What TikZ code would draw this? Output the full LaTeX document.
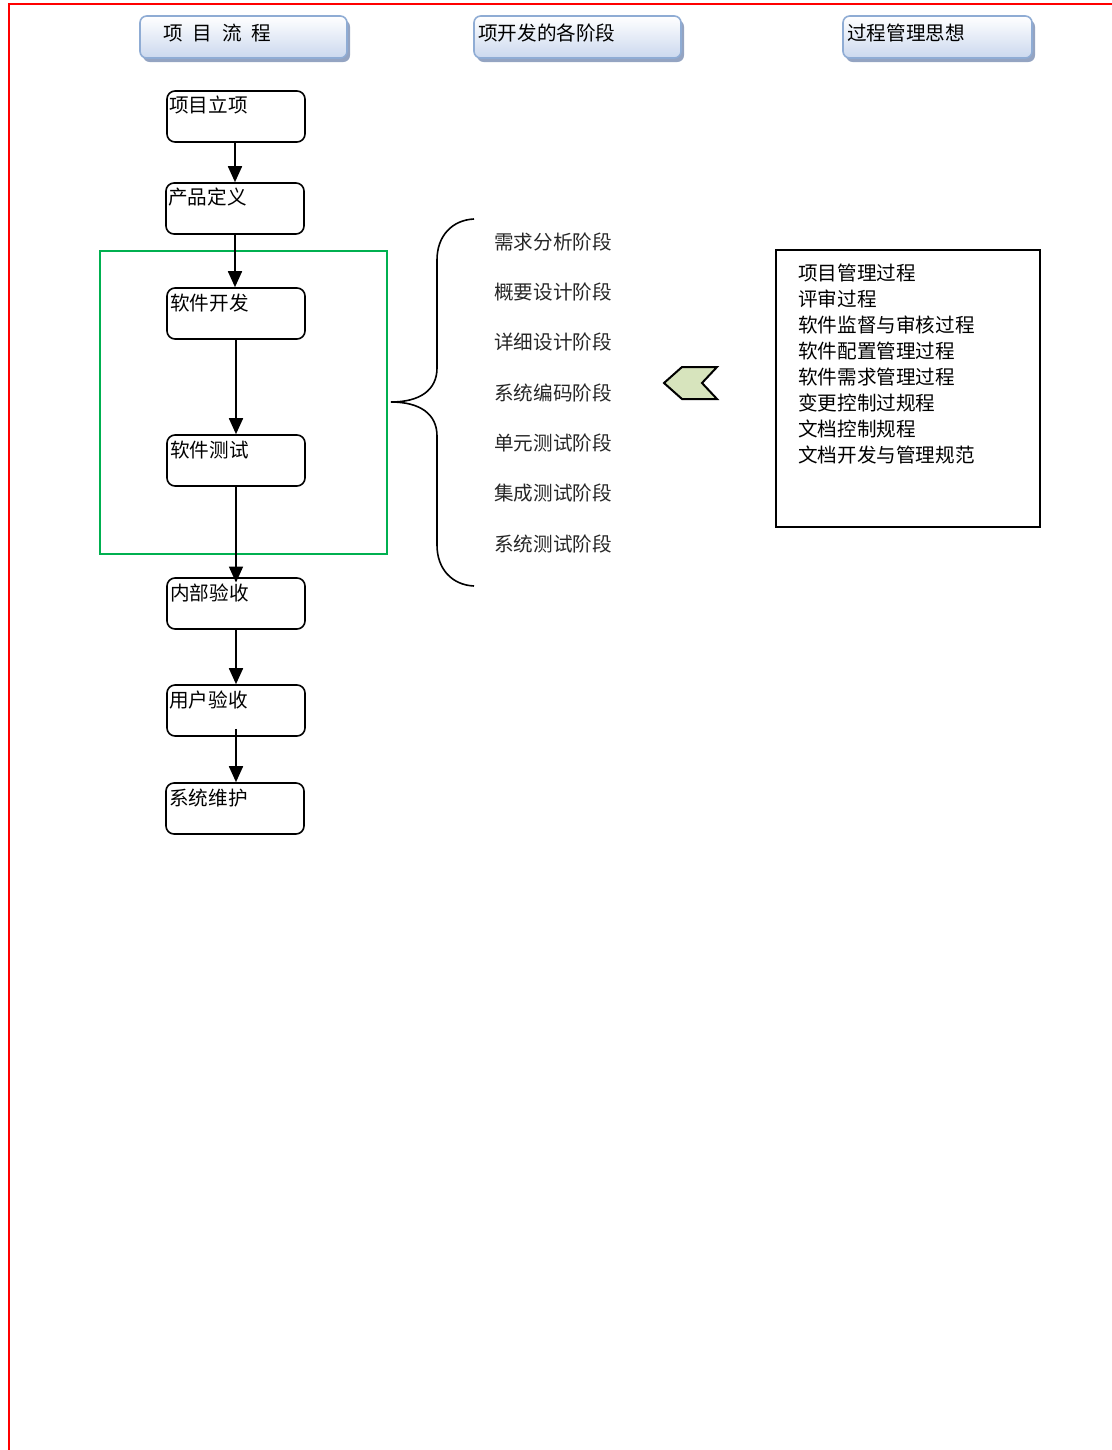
\documentclass[tikz,border=0pt]{standalone}
\usepackage{fontspec}
\newfontfamily\cjk{Noto Sans CJK SC}
\usetikzlibrary{arrows.meta}
\definecolor{hdrborder}{RGB}{143,172,212}
\definecolor{hdrbottom}{RGB}{203,216,238}
\definecolor{hdrshadow}{RGB}{148,164,194}
\definecolor{grpgreen}{RGB}{0,176,80}
\definecolor{chevfill}{RGB}{215,228,189}
\definecolor{stagetxt}{RGB}{38,38,38}
\begin{document}
\begin{tikzpicture}[x=0.75pt,y=-0.75pt,
  txt/.style={font=\cjk\fontsize{14.7pt}{19.5pt}\selectfont, inner sep=0pt},
  hdr/.style={draw=hdrborder, line width=1.2pt, rounded corners=5pt, top color=white, bottom color=hdrbottom, minimum height=42*0.75pt, inner sep=0pt},
  hdrshadowbox/.style={fill=hdrshadow, rounded corners=5pt, minimum height=42*0.75pt, inner sep=0pt},
  flowbox/.style={draw, line width=1.2pt, rounded corners=6pt, minimum width=138*0.75pt, minimum height=51*0.75pt, inner sep=0pt},
  flow/.style={line width=1.3pt, -{Triangle[length=12pt,width=10.5pt]}},
]
\useasboundingbox (0,0) rectangle (1112,1450);
% red frame
\draw[red, line width=1.5pt] (9,1450) -- (9,4) -- (1112,4);

% headers
\node[hdrshadowbox, minimum width=207*0.75pt] (h1s) at (246.5,41) {};
\node[hdr, minimum width=207*0.75pt] (h1) at (243.5,37) {};
\node[txt, anchor=west] (h1t) at (163,33) {项\hspace{0.5em}目\hspace{0.5em}流\hspace{0.5em}程};
\node[hdrshadowbox, minimum width=207*0.75pt] (h2s) at (580.5,41) {};
\node[hdr, minimum width=207*0.75pt] (h2) at (577.5,37) {};
\node[txt, anchor=west] (h2t) at (478,33) {项开发的各阶段};
\node[hdrshadowbox, minimum width=189*0.75pt] (h3s) at (940.5,41) {};
\node[hdr, minimum width=189*0.75pt] (h3) at (937.5,37) {};
\node[txt, anchor=west] (h3t) at (847,33) {过程管理思想};

% group rectangle
\node[draw=grpgreen, line width=1.3pt, minimum width=287*0.75pt, minimum height=303*0.75pt, inner sep=0pt] (grp) at (243.5,402.5) {};

% flow boxes
\node[flowbox] (b1) at (236,116.5) {};
\node[flowbox] (b2) at (235,208.5) {};
\node[flowbox] (b3) at (236,313.5) {};
\node[flowbox] (b4) at (236,460.5) {};
\node[flowbox] (b5) at (236,603.5) {};
\node[flowbox] (b6) at (236,710.5) {};
\node[flowbox] (b7) at (235,808.5) {};
\node[txt, anchor=west] (t1) at (169,105) {项目立项};
\node[txt, anchor=west] (t2) at (168,197) {产品定义};
\node[txt, anchor=west] (t3) at (170,303) {软件开发};
\node[txt, anchor=west] (t4) at (170,450) {软件测试};
\node[txt, anchor=west] (t5) at (170,593) {内部验收};
\node[txt, anchor=west] (t6) at (169,700) {用户验收};
\node[txt, anchor=west] (t7) at (169,798) {系统维护};

% arrows
\draw[flow] (b2.north |- b1.south) -- (b2.north);
\draw[flow] (b2.south) -- (b2.south |- b3.north);
\draw[flow] (b3.south) -- (b4.north);
\draw[flow, shorten >=-4pt] (b4.south) -- (b5.north);
\draw[flow] (b5.south) -- (b6.north);
\draw[flow, shorten <=-6pt] (b6.south) -- (b6.south |- b7.north);

% brace
\draw[line width=1.2pt] (474,219) .. controls (452,220) and (437,236) .. (437,260) -- (437,368)
  .. controls (437,390) and (420,402) .. (391,402)
  .. controls (420,402) and (437,414) .. (437,436) -- (437,545)
  .. controls (437,569) and (452,585) .. (474,586);

% stages
\foreach \y/\s [count=\i] in {242/需求分析阶段, 292/概要设计阶段, 342/详细设计阶段, 393/系统编码阶段, 443/单元测试阶段, 493/集成测试阶段, 544/系统测试阶段}
  \node[txt, text=stagetxt, anchor=west] (s\i) at (494,\y) {\s};

% chevron
\draw[fill=chevfill, line width=1.5pt, line join=miter] (664,383) -- (682,367) -- (717,367) -- (702,383) -- (717,399) -- (682,399) -- cycle;

% thoughts box
\node[draw, line width=1.3pt, minimum width=264*0.75pt, minimum height=277*0.75pt, inner sep=0pt] (thoughts) at (908,388.5) {};
\node[txt, anchor=north west, align=left] (thoughtstxt) at (798,264) {项目管理过程\\评审过程\\软件监督与审核过程\\软件配置管理过程\\软件需求管理过程\\变更控制过规程\\文档控制规程\\文档开发与管理规范};
\end{tikzpicture}
\end{document}
